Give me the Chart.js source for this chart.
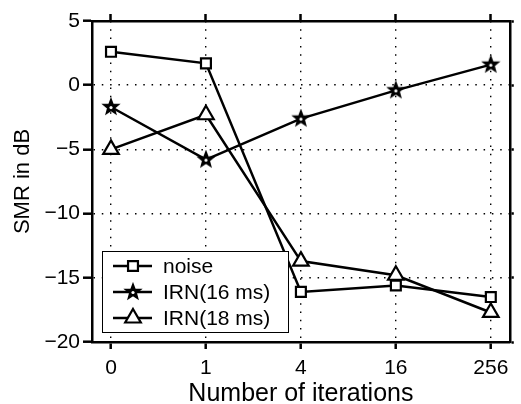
<!DOCTYPE html>
<html>
<head>
<meta charset="utf-8">
<script src="https://cdn.jsdelivr.net/npm/chart.js@4.4.0/dist/chart.umd.min.js"></script>
<style>
    html, body { margin: 0; padding: 0; background: #fff; }
</style>
</head>
<body>
<canvas id="graficoSMR" width="521" height="404"></canvas>
<script>
// Datos
const iteraciones = ['0', '1', '4', '16', '256'];
const ticksY = [5, 0, -5, -10, -15, -20];
const nombresSeries = ['noise', 'IRN(16 ms)', 'IRN(18 ms)'];
const smrRuido = [2.6, 1.7, -16.1, -15.6, -16.5];
const smrIrn16 = [-1.7, -5.8, -2.6, -0.4, 1.6];
const smrIrn18 = [-5.0, -2.3, -13.7, -14.8, -17.7];

const FUENTE = "'Liberation Sans', Arial, Helvetica, sans-serif";

// Estrella de cinco puntas (como el marcador 'p' de MATLAB), casi negra con centro blanco
function crearEstrella(r) {
    const c = document.createElement('canvas');
    const s = Math.ceil(r * 2 + 4);
    c.width = s;
    c.height = s;
    const ctx = c.getContext('2d');
    ctx.beginPath();
    for (let i = 0; i < 10; i++) {
        const rad = i % 2 === 0 ? r : r * 0.42;
        const a = -Math.PI / 2 + i * Math.PI / 5;
        ctx.lineTo(s / 2 + rad * Math.cos(a), s / 2 + rad * Math.sin(a));
    }
    ctx.closePath();
    ctx.fillStyle = '#000';
    ctx.fill();
    ctx.lineWidth = 1.5;
    ctx.strokeStyle = '#000';
    ctx.stroke();
    ctx.beginPath();
    ctx.arc(s / 2, s / 2 + 0.5, 1.6, 0, Math.PI * 2);
    ctx.fillStyle = '#fff';
    ctx.fill();
    return c;
}

const estrella = crearEstrella(8);

function aPuntos(valores) {
    return valores.map((v, i) => ({ x: i, y: v }));
}

function serie(nombre, valores, estilo, radio) {
    return {
        label: nombre,
        data: aPuntos(valores),
        borderColor: '#000',
        borderWidth: 2.5,
        pointStyle: estilo,
        pointRadius: radio,
        pointHoverRadius: radio,
        pointBorderWidth: 2.2,
        pointBorderColor: '#000',
        pointBackgroundColor: '#fff',
        tension: 0,
        clip: false
    };
}

// Dibuja un marcador en la leyenda
function dibujarMarcador(ctx, estilo, radio, x, y) {
    ctx.save();
    ctx.fillStyle = '#fff';
    ctx.strokeStyle = '#000';
    ctx.lineWidth = 2.2;
    if (estilo instanceof HTMLCanvasElement) {
        ctx.drawImage(estilo, x - estilo.width / 2, y - estilo.height / 2);
    } else if (estilo === 'rect') {
        const m = radio * Math.SQRT1_2;
        ctx.beginPath();
        ctx.rect(x - m, y - m, 2 * m, 2 * m);
        ctx.fill();
        ctx.stroke();
    } else if (estilo === 'triangle') {
        ctx.beginPath();
        for (let k = 0; k < 3; k++) {
            const a = k * 2 * Math.PI / 3;
            ctx.lineTo(x + Math.sin(a) * radio, y - Math.cos(a) * radio);
        }
        ctx.closePath();
        ctx.fill();
        ctx.stroke();
    }
    ctx.restore();
}

// Leyenda dentro del área del gráfico, abajo a la izquierda
const leyendaInterna = {
    id: 'leyendaInterna',
    afterDatasetsDraw(chart) {
        const { ctx, chartArea } = chart;
        const x0 = chartArea.left + 10;
        const y0 = chartArea.bottom - 91;
        ctx.save();
        ctx.fillStyle = '#fff';
        ctx.fillRect(x0, y0, 186, 81);
        ctx.strokeStyle = '#000';
        ctx.lineWidth = 1;
        ctx.strokeRect(x0 + 0.5, y0 + 0.5, 186, 81);

        chart.data.datasets.forEach((ds, i) => {
            const y = y0 + 15 + i * 26;
            ctx.strokeStyle = '#000';
            ctx.lineWidth = 2.5;
            ctx.beginPath();
            ctx.moveTo(x0 + 11, y);
            ctx.lineTo(x0 + 50, y);
            ctx.stroke();
            dibujarMarcador(ctx, ds.pointStyle, ds.pointRadius, x0 + 31, y);
            ctx.fillStyle = '#000';
            ctx.font = '21px ' + FUENTE;
            ctx.textBaseline = 'middle';
            ctx.textAlign = 'left';
            ctx.fillText(ds.label, x0 + 61, y + 1);
        });
        ctx.restore();
    }
};

const ticksX = () => iteraciones.map((_, i) => ({ value: i }));
const ticksYFn = () => ticksY.map(v => ({ value: v }));

const ctx = document.getElementById('graficoSMR').getContext('2d');
new Chart(ctx, {
    type: 'line',
    data: {
        datasets: [
            serie(nombresSeries[0], smrRuido, 'rect', 7),
            serie(nombresSeries[1], smrIrn16, estrella, 8),
            serie(nombresSeries[2], smrIrn18, 'triangle', 9)
        ]
    },
    options: {
        responsive: false,
        devicePixelRatio: 1,
        animation: false,
        layout: { padding: 0 },
        plugins: {
            legend: { display: false },
            tooltip: { enabled: false }
        },
        scales: {
            x: {
                type: 'linear',
                position: 'bottom',
                min: -0.2,
                max: 4.2,
                afterBuildTicks: s => { s.ticks = ticksX(); },
                afterFit: s => { s.height = 62; },
                ticks: {
                    callback: v => iteraciones[v],
                    color: '#000',
                    font: { family: FUENTE, size: 21 },
                    padding: 7,
                    maxRotation: 0,
                    autoSkip: false
                },
                grid: { color: '#000', lineWidth: 1.4, tickLength: 7, tickWidth: 2.5, tickColor: '#000' },
                border: { display: true, color: '#000', width: 2.5, dash: [1.5, 6.8] },
                title: {
                    display: true,
                    text: 'Number of iterations',
                    color: '#000',
                    font: { family: FUENTE, size: 25, lineHeight: 1 },
                    padding: { top: 0, bottom: -3 }
                }
            },
            xArriba: {
                type: 'linear',
                position: 'top',
                min: -0.2,
                max: 4.2,
                afterBuildTicks: s => { s.ticks = ticksX(); },
                afterFit: s => { s.height = 21; },
                ticks: { display: false },
                grid: { drawOnChartArea: false, tickLength: 7, tickWidth: 2.5, tickColor: '#000', color: '#000' },
                border: { display: true, color: '#000', width: 2.5 }
            },
            y: {
                type: 'linear',
                position: 'left',
                min: -20,
                max: 5,
                afterBuildTicks: s => { s.ticks = ticksYFn(); },
                afterFit: s => { s.width = 92; },
                ticks: {
                    callback: v => String(v).replace('-', '\u2212'),
                    color: '#000',
                    font: { family: FUENTE, size: 21 },
                    padding: 3
                },
                grid: { color: '#000', lineWidth: 1.4, tickLength: 9, tickWidth: 2.5, tickColor: '#000' },
                border: { display: true, color: '#000', width: 2.5, dash: [1.5, 6.8] },
                title: {
                    display: true,
                    text: 'SMR in dB',
                    color: '#000',
                    font: { family: FUENTE, size: 22, lineHeight: 1 },
                    padding: { top: 12, bottom: 0 }
                }
            },
            yDerecha: {
                type: 'linear',
                position: 'right',
                min: -20,
                max: 5,
                afterBuildTicks: s => { s.ticks = ticksYFn(); },
                afterFit: s => { s.width = 4; },
                ticks: { display: false },
                grid: { drawOnChartArea: false, tickLength: 4, tickWidth: 2.5, tickColor: '#000', color: '#000' },
                border: { display: true, color: '#000', width: 2.5 }
            }
        }
    },
    plugins: [leyendaInterna]
});
</script>
</body>
</html>
